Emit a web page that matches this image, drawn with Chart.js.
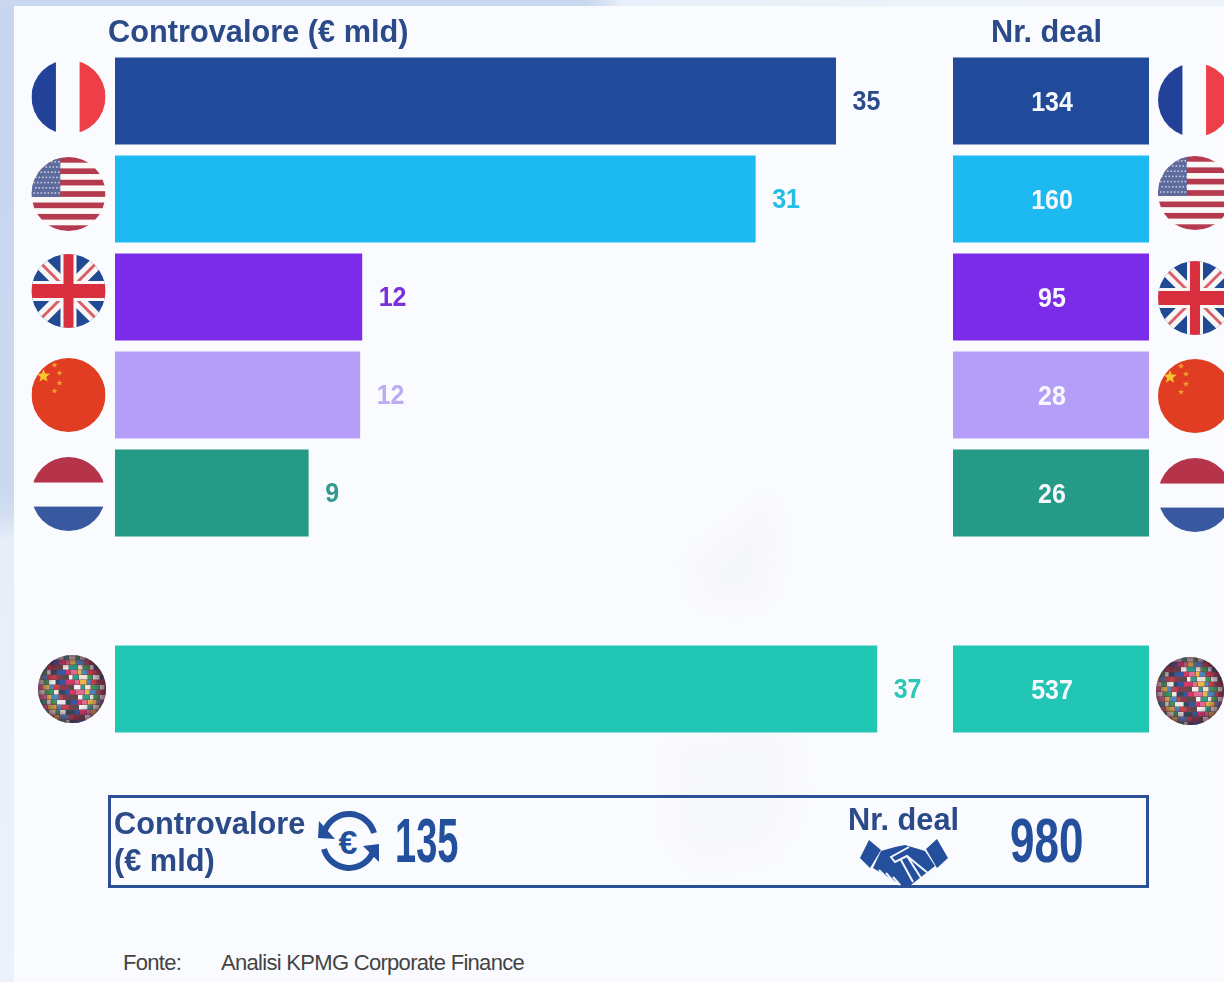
<!DOCTYPE html>
<html>
<head>
<meta charset="utf-8">
<title>Controvalore e Nr. deal</title>
<script src="https://cdn.jsdelivr.net/npm/chart.js@4"></script>
<style>
  html, body { margin: 0; padding: 0; }
  body {
    width: 1224px; height: 982px; overflow: hidden; position: relative;
    font-family: "Liberation Sans", Arial, sans-serif;
    background: linear-gradient(180deg, #c6d6ef 0%, #cbd9f0 50%, #d3def0 52.5%, #e6eef9 55%, #ebf2fb 100%);
  }
  #topstrip { position: absolute; left: 0; top: 0; width: 1224px; height: 6px;
    background: linear-gradient(90deg, #c9d8ef 0%, #c9d8ef 48%, #e9f0f9 51%, #eff4fb 100%); }
  #panel { position: absolute; left: 14px; top: 6px; width: 1210px; height: 976px; background: #fafbfe; }
  #shade { position: absolute; left: 0; top: 0; filter: blur(9px); }
  canvas { position: absolute; top: 0; }
  #valueChart { left: 0; }
  #dealChart { left: 940px; }
  .txt { position: absolute; white-space: nowrap; transform-origin: left top; }
  .head { font-weight: bold; color: #2b4a88; font-size: 29px; transform: scale(1.06, 1.08); }
  .big { font-weight: bold; color: #234f9c; font-size: 50px; }
  #box { position: absolute; left: 108px; top: 795px; width: 1035px; height: 87px; border: 3px solid #2c5095; }
  .src { color: #444; font-size: 22px; letter-spacing: -0.7px; }
  svg { position: absolute; }
</style>
</head>
<body>
<div id="topstrip"></div>
<div id="panel"></div>

<!-- very faint map behind the chart -->
<svg id="shade" width="1224" height="982" viewBox="0 0 1224 982">
  <path d="M695 560 L735 530 L765 500 L775 540 L770 590 L745 605 L705 600 Z" fill="#f6f7fb"/>
  <path d="M675 740 L790 725 L795 800 L770 850 L700 865 L670 830 Z" fill="#f7f8fb"/>
</svg>

<canvas id="valueChart" width="939" height="760"></canvas>
<canvas id="dealChart" width="284" height="760"></canvas>

<div class="txt head" style="left:108px; top:14px">Controvalore (€ mld)</div>
<div class="txt head" style="left:991px; top:14px">Nr. deal</div>

<div id="box"></div>
<div class="txt head" style="left:114px; top:806px">Controvalore</div>
<div class="txt head" style="left:114px; top:843px">(€ mld)</div>
<div class="txt head" style="left:848px; top:802px">Nr. deal</div>
<div class="txt big" id="totalValue" style="left:395px; top:804px; transform: scale(0.76, 1.25)"></div>
<div class="txt big" id="totalDeals" style="left:1010px; top:804px; transform: scale(0.88, 1.25)"></div>

<!-- euro icon -->
<svg style="left:316px; top:806px" width="66" height="72" viewBox="0 0 66 72">
  <path d="M9 24 A26 26 0 0 1 58 27" fill="none" stroke="#234f9c" stroke-width="6"/>
  <path d="M3 15 L19 33 L2 32 Z" fill="#234f9c"/>
  <path d="M57 46 A26 26 0 0 1 8 43" fill="none" stroke="#234f9c" stroke-width="6"/>
  <path d="M63 38 L47 40 L63 56 Z" fill="#234f9c"/>
  <text x="32" y="48" text-anchor="middle" font-family="Liberation Sans" font-weight="bold" font-size="34" fill="#234f9c">€</text>
</svg>

<!-- handshake icon -->
<svg style="left:859px; top:838px" width="90" height="50" viewBox="0 0 90 50">
  <path d="M10 2 L22 12 L11 30 L1 20 Z M78 1 L89 20 L78 30 L67 11 Z" fill="#234f9c"/>
  <path d="M22 13 L36 9 L46 7 L66 13 L76 28 L52 47 L44 48 L14 30 Z" fill="#234f9c"/>
  <path d="M50 9 L32 19 L36 24 L48 18 L70 36 M48 18 L62 40 M42 22 L54 44" fill="none" stroke="#f4f7fd" stroke-width="2"/>
  <path d="M20 32 L27 39 M27 35 L34 43 M34 39 L41 47" fill="none" stroke="#f4f7fd" stroke-width="2"/>
</svg>

<div class="txt src" style="left:123px; top:950px">Fonte:</div>
<div class="txt src" style="left:221px; top:950px">Analisi KPMG Corporate Finance</div>

<script>
const countries = ['Francia', 'USA', 'UK', 'Cina', 'Paesi Bassi', '', 'Altri'];
const flags = ['fr', 'us', 'uk', 'cn', 'nl', null, 'world'];
const valueMld = [35, 31.1, 12, 11.9, 9.4, null, 37];
const dealCount = [134, 160, 95, 28, 26, null, 537];
const barColors = ['#214a9a', '#1cbaf1', '#7b2ce8', '#b59ef8', '#259a86', null, '#22c6b5'];
const valueTextColors = ['#2b4a8c', '#25bfe6', '#7b30d8', '#bdacf2', '#33998e', null, '#2cc8b5'];
const totalValue = 135;
const totalDeals = 980;

document.getElementById('totalValue').textContent = totalValue;
document.getElementById('totalDeals').textContent = totalDeals;

// flags are a bit off the bar centres in the original
const flagShiftLeft = [-4, -5, -6, 0, 1, 0, 0];
const flagShiftRight = [-1, -6, 1, 1, 2, 0, 2];

function drawFlag(ctx, kind, cx, cy, r) {
  ctx.save();
  ctx.beginPath();
  ctx.arc(cx, cy, r, 0, Math.PI * 2);
  ctx.clip();
  const l = cx - r, t = cy - r, d = r * 2;
  if (kind === 'fr') {
    ctx.fillStyle = '#22429a';
    ctx.fillRect(l, t, d * 0.33, d);
    ctx.fillStyle = '#ee3e48';
    ctx.fillRect(l + d * 0.65, t, d * 0.35, d);
  } else if (kind === 'us') {
    for (let i = 0; i < 13; i++) {
      ctx.fillStyle = i % 2 ? '#fbf8f8' : '#b53a50';
      ctx.fillRect(l, t + i * d / 13, d, d / 13 + 0.5);
    }
    ctx.fillStyle = '#5d6a9c';
    ctx.fillRect(l, t, d * 0.39, d * 0.54);
    ctx.fillStyle = '#c4c9de';
    for (let row = 0; row < 7; row++) {
      for (let col = 0; col < 8; col++) {
        ctx.fillRect(l + 2 + col * 3.5 + (row % 2) * 1.5, t + 4 + row * 5.2, 1.6, 1.6);
      }
    }
  } else if (kind === 'uk') {
    ctx.fillStyle = '#214a94';
    ctx.fillRect(l, t, d, d);
    ctx.lineWidth = 13;
    ctx.strokeStyle = '#f9f6f6';
    ctx.beginPath();
    ctx.moveTo(l, t); ctx.lineTo(l + d, t + d);
    ctx.moveTo(l + d, t); ctx.lineTo(l, t + d);
    ctx.stroke();
    ctx.lineWidth = 3;
    ctx.strokeStyle = '#d8606a';
    ctx.stroke();
    ctx.fillStyle = '#f9f6f6';
    ctx.fillRect(cx - 8, t, 16, d);
    ctx.fillRect(l, cy - 10, d, 20);
    ctx.fillStyle = '#d9303f';
    ctx.fillRect(cx - 5, t, 10, d);
    ctx.fillRect(l, cy - 7, d, 14);
  } else if (kind === 'cn') {
    ctx.fillStyle = '#e03d22';
    ctx.fillRect(l, t, d, d);
    ctx.fillStyle = '#f7c62f';
    star(ctx, l + 12, t + 18, 7);
    ctx.fillStyle = '#f0a030';
    star(ctx, l + 23, t + 7, 3.2);
    star(ctx, l + 28, t + 15, 3.2);
    star(ctx, l + 28, t + 25, 3.2);
    star(ctx, l + 23, t + 33, 3.2);
  } else if (kind === 'nl') {
    ctx.fillStyle = '#b5344a';
    ctx.fillRect(l, t, d, d * 0.345);
    ctx.fillStyle = '#38589f';
    ctx.fillRect(l, t + d * 0.67, d, d * 0.33);
  } else {
    // mosaic of tiny flags, colours just cycle
    const tones = ['#c8404a', '#f4f2ee', '#3a9a5c', '#3458a8', '#e8b848', '#8a3b4b', '#28a08a', '#e8e8e8', '#d83868', '#4a88c0', '#5a4a4a', '#f0e0d0', '#34495e', '#e06a90'];
    const widths = [7, 4, 6, 9, 5];
    ctx.fillStyle = '#6b4a5a';
    ctx.fillRect(l, t, d, d);
    let n = 0;
    for (let y = 0; y < d; y += 5) {
      let x = -((y / 5 * 3) % 6);
      while (x < d) {
        const w = widths[n % widths.length];
        ctx.fillStyle = tones[(n * 5 + (y / 5) * 3) % tones.length];
        ctx.fillRect(l + x, t + y, w - 0.5, 4.5);
        x += w;
        n++;
      }
    }
    const edge = ctx.createRadialGradient(cx, cy, r * 0.6, cx, cy, r);
    edge.addColorStop(0, 'rgba(70,30,50,0)');
    edge.addColorStop(1, 'rgba(70,30,50,0.65)');
    ctx.fillStyle = edge;
    ctx.fillRect(l, t, d, d);
  }
  ctx.restore();
}

function star(ctx, x, y, r) {
  ctx.beginPath();
  for (let i = 0; i < 10; i++) {
    const a = -Math.PI / 2 + i * Math.PI / 5;
    const rr = i % 2 ? r * 0.42 : r;
    ctx.lineTo(x + Math.cos(a) * rr, y + Math.sin(a) * rr);
  }
  ctx.closePath();
  ctx.fill();
}

// the source picture is a little stretched vertically, same for its numbers
function tallText(ctx, text, x, y, color, align) {
  ctx.save();
  ctx.translate(x, y);
  ctx.scale(1, 1.14);
  ctx.font = 'bold 25px "Liberation Sans"';
  ctx.fillStyle = color;
  ctx.textAlign = align;
  ctx.textBaseline = 'middle';
  ctx.fillText(text, 0, 0);
  ctx.restore();
}

const valuePlugin = {
  id: 'valueExtras',
  afterDraw(chart) {
    const ctx = chart.ctx;
    const bars = chart.getDatasetMeta(0).data;
    valueMld.forEach((v, i) => {
      if (v === null) return;
      tallText(ctx, String(Math.round(v)), bars[i].x + 16.5, bars[i].y + 1.5, valueTextColors[i], 'left');
      const isWorld = flags[i] === 'world';
      drawFlag(ctx, flags[i], isWorld ? 72 : 68.5, bars[i].y + flagShiftLeft[i], isWorld ? 34 : 37);
    });
  }
};

const dealPlugin = {
  id: 'dealExtras',
  afterDraw(chart) {
    const ctx = chart.ctx;
    const bars = chart.getDatasetMeta(0).data;
    dealCount.forEach((v, i) => {
      if (v === null) return;
      tallText(ctx, String(v), (chart.scales.x.left + chart.scales.x.right) / 2 + 1, bars[i].y + 2, '#f6f8fe', 'center');
      const isWorld = flags[i] === 'world';
      drawFlag(ctx, flags[i], isWorld ? 250 : 255, bars[i].y + flagShiftRight[i], isWorld ? 34 : 37);
    });
  }
};

function baseOptions(padding, xMax) {
  return {
    indexAxis: 'y',
    responsive: false,
    animation: false,
    layout: { padding },
    plugins: { legend: { display: false }, tooltip: { enabled: false } },
    scales: {
      x: { display: false, min: 0, max: xMax },
      y: { display: false }
    }
  };
}

new Chart(document.getElementById('valueChart'), {
  type: 'bar',
  data: {
    labels: countries,
    datasets: [{ data: valueMld, backgroundColor: barColors, categoryPercentage: 1, barPercentage: 0.888 }]
  },
  options: baseOptions({ left: 115, top: 52, bottom: 22, right: 0 }, 40),
  plugins: [valuePlugin]
});

// deal cells all have the same width, the count is only printed inside
new Chart(document.getElementById('dealChart'), {
  type: 'bar',
  data: {
    labels: countries,
    datasets: [{ data: dealCount.map(v => v === null ? null : 1), backgroundColor: barColors, categoryPercentage: 1, barPercentage: 0.888 }]
  },
  options: baseOptions({ left: 13, top: 52, bottom: 22, right: 75 }, 1),
  plugins: [dealPlugin]
});
</script>
</body>
</html>
